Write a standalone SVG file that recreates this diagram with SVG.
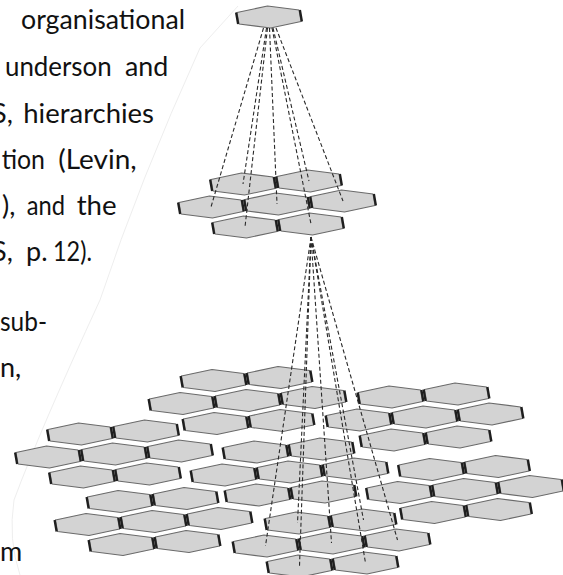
<svg xmlns="http://www.w3.org/2000/svg" xmlns:xlink="http://www.w3.org/1999/xlink" width="563" height="575" viewBox="0 0 563 575">
  <style>
    .face { fill:#d3d3d3; stroke:#6a6a6a; stroke-width:1.1; stroke-linejoin:round; }
    .edge { fill:none; stroke:#1e1e1e; stroke-width:2.3; }
    .link { fill:none; stroke:#2a2a2a; stroke-width:1.1; stroke-dasharray:4 2.5; }
    .rim { fill:none; stroke:#eeeeee; stroke-width:1; }
    text { font-family:Lato, 'Open Sans', 'Liberation Sans', sans-serif; font-size:27px; fill:#111111; }
  </style>
  <defs>
    <!-- flattened hexagon cell, seen in perspective; dark rims on the vertical sides -->
    <g id="hex">
      <polygon class="face" points="-1.5,-11 30,-7 32,4.5 1.5,11 -30,7 -32,-4.5"/>
      <path class="edge" d="M-32.9,-4.5 L-30.9,7 M32.9,4.5 L30.9,-7"/>
    </g>
  </defs>

  <rect width="563" height="575" fill="#ffffff"/>

  <!-- faint outline of the lens -->
  <path class="rim" d="M238,6 L200,48 Q140,180 100,300 Q40,430 14,500 Q8,540 20,575"/>

  <!-- body text (cropped column) -->
  <g id="body-text">
    <text x="21" y="29" textLength="164" lengthAdjust="spacingAndGlyphs">organisational</text>
    <text x="5" y="76" textLength="106.7" lengthAdjust="spacingAndGlyphs">underson</text>
    <text x="125" y="76" textLength="43.3" lengthAdjust="spacingAndGlyphs">and</text>
    <text x="-8" y="122.5">S,</text>
    <text x="23.3" y="122.5" textLength="130.7" lengthAdjust="spacingAndGlyphs">hierarchies</text>
    <text x="1.7" y="169" textLength="43.3" lengthAdjust="spacingAndGlyphs">tion</text>
    <text x="58.3" y="169" textLength="78.4" lengthAdjust="spacingAndGlyphs">(Levin,</text>
    <text x="2" y="215">),</text>
    <text x="26.7" y="215" textLength="38.3" lengthAdjust="spacingAndGlyphs">and</text>
    <text x="76.7" y="215" textLength="40" lengthAdjust="spacingAndGlyphs">the</text>
    <text x="-8" y="261">S,</text>
    <text x="26" y="261">p.</text>
    <text x="53" y="261" textLength="39" lengthAdjust="spacingAndGlyphs">12).</text>
    <text x="0" y="331" textLength="47" lengthAdjust="spacingAndGlyphs">sub-</text>
    <text x="0" y="377">n,</text>
    <text x="0" y="561">m</text>
  </g>

  <!-- bottom level: seven clusters of seven cells -->
  <g id="cluster-1">
    <g id="c1-ul"><use xlink:href="#hex" transform="translate(213.5,380.5)"/></g>
    <g id="c1-ur"><use xlink:href="#hex" transform="translate(279.5,377.5)"/></g>
    <g id="c1-l"><use xlink:href="#hex" transform="translate(181.5,403.5)"/></g>
    <g id="c1-c"><use xlink:href="#hex" transform="translate(247.5,400.5)"/></g>
    <g id="c1-r"><use xlink:href="#hex" transform="translate(313.5,397.5)"/></g>
    <g id="c1-ll"><use xlink:href="#hex" transform="translate(215.5,423.5)"/></g>
    <g id="c1-lr"><use xlink:href="#hex" transform="translate(281.5,420.5)"/></g>
  </g>
  <g id="cluster-2">
    <g id="c2-ul"><use xlink:href="#hex" transform="translate(390.5,397)"/></g>
    <g id="c2-ur"><use xlink:href="#hex" transform="translate(456.5,394)"/></g>
    <g id="c2-l"><use xlink:href="#hex" transform="translate(358.5,420)"/></g>
    <g id="c2-c"><use xlink:href="#hex" transform="translate(424.5,417)"/></g>
    <g id="c2-r"><use xlink:href="#hex" transform="translate(490.5,414)"/></g>
    <g id="c2-ll"><use xlink:href="#hex" transform="translate(392.5,440)"/></g>
    <g id="c2-lr"><use xlink:href="#hex" transform="translate(458.5,437)"/></g>
  </g>
  <g id="cluster-3">
    <g id="c3-ul"><use xlink:href="#hex" transform="translate(80,434)"/></g>
    <g id="c3-ur"><use xlink:href="#hex" transform="translate(146,431)"/></g>
    <g id="c3-l"><use xlink:href="#hex" transform="translate(48,457)"/></g>
    <g id="c3-c"><use xlink:href="#hex" transform="translate(114,454)"/></g>
    <g id="c3-r"><use xlink:href="#hex" transform="translate(180,451)"/></g>
    <g id="c3-ll"><use xlink:href="#hex" transform="translate(82,477)"/></g>
    <g id="c3-lr"><use xlink:href="#hex" transform="translate(148,474)"/></g>
  </g>
  <g id="cluster-4">
    <g id="c4-ul"><use xlink:href="#hex" transform="translate(255.5,452)"/></g>
    <g id="c4-ur"><use xlink:href="#hex" transform="translate(321.5,449)"/></g>
    <g id="c4-l"><use xlink:href="#hex" transform="translate(223.5,475)"/></g>
    <g id="c4-c"><use xlink:href="#hex" transform="translate(289.5,472)"/></g>
    <g id="c4-r"><use xlink:href="#hex" transform="translate(355.5,469)"/></g>
    <g id="c4-ll"><use xlink:href="#hex" transform="translate(257.5,495)"/></g>
    <g id="c4-lr"><use xlink:href="#hex" transform="translate(323.5,492)"/></g>
  </g>
  <g id="cluster-5">
    <g id="c5-ul"><use xlink:href="#hex" transform="translate(431,469.5)"/></g>
    <g id="c5-ur"><use xlink:href="#hex" transform="translate(497,466.5)"/></g>
    <g id="c5-l"><use xlink:href="#hex" transform="translate(399,492.5)"/></g>
    <g id="c5-c"><use xlink:href="#hex" transform="translate(465,489.5)"/></g>
    <g id="c5-r"><use xlink:href="#hex" transform="translate(531,486.5)"/></g>
    <g id="c5-ll"><use xlink:href="#hex" transform="translate(433,512.5)"/></g>
    <g id="c5-lr"><use xlink:href="#hex" transform="translate(499,509.5)"/></g>
  </g>
  <g id="cluster-6">
    <g id="c6-ul"><use xlink:href="#hex" transform="translate(119.5,501.5)"/></g>
    <g id="c6-ur"><use xlink:href="#hex" transform="translate(185.5,498.5)"/></g>
    <g id="c6-l"><use xlink:href="#hex" transform="translate(87.5,524.5)"/></g>
    <g id="c6-c"><use xlink:href="#hex" transform="translate(153.5,521.5)"/></g>
    <g id="c6-r"><use xlink:href="#hex" transform="translate(219.5,518.5)"/></g>
    <g id="c6-ll"><use xlink:href="#hex" transform="translate(121.5,544.5)"/></g>
    <g id="c6-lr"><use xlink:href="#hex" transform="translate(187.5,541.5)"/></g>
  </g>
  <g id="cluster-7">
    <g id="c7-ul"><use xlink:href="#hex" transform="translate(297.5,523)"/></g>
    <g id="c7-ur"><use xlink:href="#hex" transform="translate(363.5,520)"/></g>
    <g id="c7-l"><use xlink:href="#hex" transform="translate(265.5,546)"/></g>
    <g id="c7-c"><use xlink:href="#hex" transform="translate(331.5,543)"/></g>
    <g id="c7-r"><use xlink:href="#hex" transform="translate(397.5,540)"/></g>
    <g id="c7-ll"><use xlink:href="#hex" transform="translate(299.5,566)"/></g>
    <g id="c7-lr"><use xlink:href="#hex" transform="translate(365.5,563)"/></g>
  </g>

  <!-- middle level: one cluster of seven cells -->
  <g id="middle">
    <g id="mid-a"><use xlink:href="#hex" transform="translate(243,184)"/></g>
    <g id="mid-b"><use xlink:href="#hex" transform="translate(309,181)"/></g>
    <g id="mid-c"><use xlink:href="#hex" transform="translate(211,207)"/></g>
    <g id="mid-d"><use xlink:href="#hex" transform="translate(277,204)"/></g>
    <g id="mid-e"><use xlink:href="#hex" transform="translate(343,201)"/></g>
    <g id="mid-f"><use xlink:href="#hex" transform="translate(245,227)"/></g>
    <g id="mid-g"><use xlink:href="#hex" transform="translate(311,224)"/></g>
  </g>

  <!-- top level: single cell -->
  <g id="top"><use xlink:href="#hex" transform="translate(269,17)"/></g>

  <!-- dashed projections between levels -->
  <g id="connectors">
    <line class="link" x1="266.5" y1="28" x2="243" y2="184"/>
    <line class="link" x1="273" y1="28" x2="309" y2="181"/>
    <line class="link" x1="263.5" y1="28" x2="211" y2="207"/>
    <line class="link" x1="269.5" y1="28" x2="277" y2="204"/>
    <line class="link" x1="276" y1="28" x2="343" y2="201"/>
    <line class="link" x1="267.5" y1="28" x2="245" y2="227"/>
    <line class="link" x1="272" y1="28" x2="311" y2="224"/>

    <line class="link" x1="311" y1="237" x2="297.5" y2="523"/>
    <line class="link" x1="311" y1="237" x2="363.5" y2="520"/>
    <line class="link" x1="311" y1="237" x2="265.5" y2="546"/>
    <line class="link" x1="311" y1="237" x2="331.5" y2="543"/>
    <line class="link" x1="311" y1="237" x2="397.5" y2="540"/>
    <line class="link" x1="311" y1="237" x2="299.5" y2="566"/>
    <line class="link" x1="311" y1="237" x2="365.5" y2="563"/>
  </g>
</svg>
